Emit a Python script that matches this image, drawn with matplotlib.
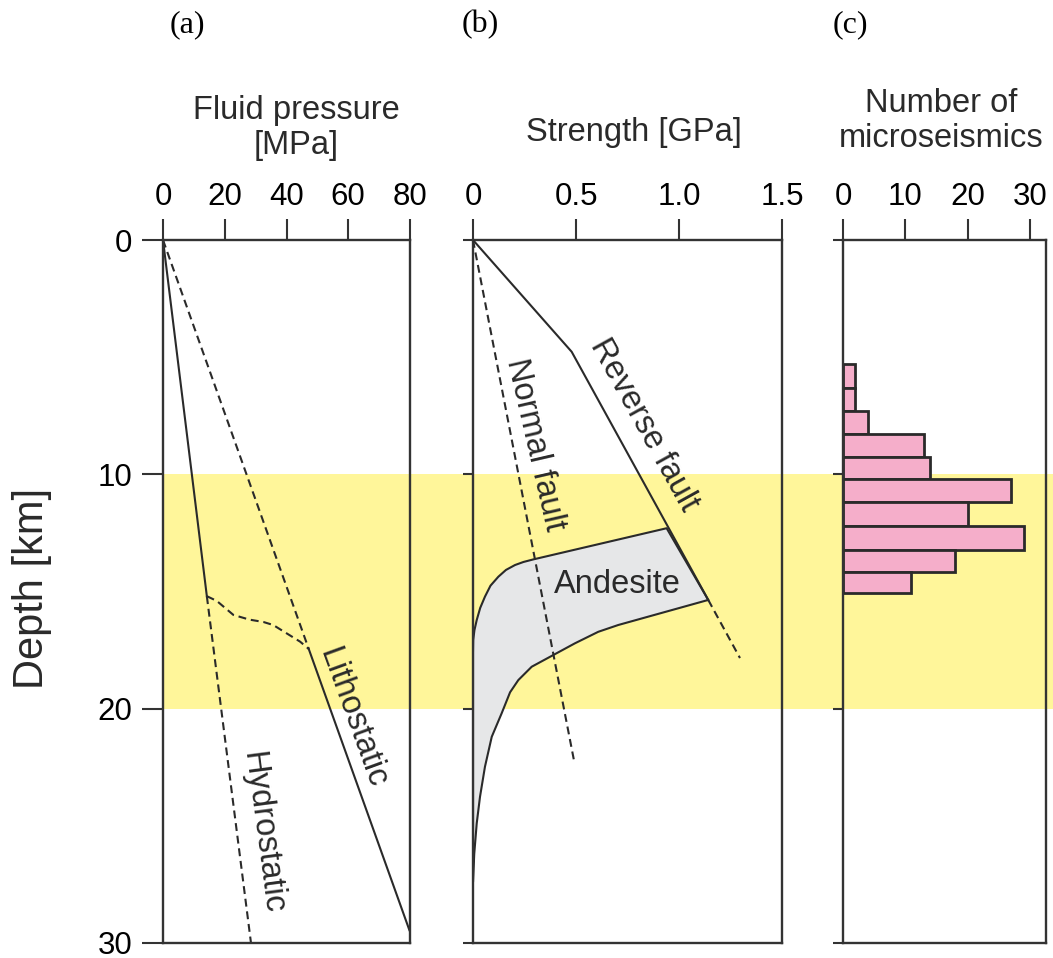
import numpy as np
import matplotlib
matplotlib.use('Agg')
import matplotlib.pyplot as plt
from matplotlib.patches import Rectangle, Polygon
from matplotlib.transforms import blended_transform_factory

plt.rcParams['font.family'] = ['Liberation Sans', 'DejaVu Sans']

# ---------------- data ----------------
# Panel (a): fluid pressure [MPa] vs depth [km]
hydro_upper_p = [0, 14.2]
hydro_upper_d = [0, 15.2]
hydro_lower_p = [14.2, 28.5]
hydro_lower_d = [15.2, 30.0]
litho_upper_p = [0, 47.2]
litho_upper_d = [0, 17.45]
litho_lower_p = [47.2, 79.8]
litho_lower_d = [17.45, 29.45]
trans_p = [14.2, 17.4, 22.8, 28.0, 32.5, 35.7, 40.1, 44.4, 47.2]
trans_d = [15.2, 15.4, 16.0, 16.2, 16.3, 16.43, 16.79, 17.14, 17.45]

# Panel (b): strength [GPa] vs depth [km]
reverse_s = [0, 0.479, 1.142]
reverse_d = [0, 4.77, 15.36]
reverse_ext_s = [1.142, 1.296]
reverse_ext_d = [15.36, 17.84]
normal_s = [0, 0.49]
normal_d = [0, 22.2]
andesite_top_s = [0.940, 0.293, 0.245, 0.204, 0.160, 0.123, 0.085, 0.058, 0.035, 0.018, 0.007, 0.001, 0.0]
andesite_top_d = [12.30, 13.63, 13.74, 13.87, 14.08, 14.37, 14.75, 15.22, 15.70, 16.22, 16.65, 17.07, 17.6]
andesite_bot_s = [0.0, 0.006, 0.018, 0.034, 0.058, 0.091, 0.139, 0.180, 0.220, 0.285,
                  0.390, 0.495, 0.608, 0.705, 1.142]
andesite_bot_d = [27.4, 26.2, 24.9, 23.76, 22.48, 21.2, 20.2, 19.3, 18.78, 18.21,
                  17.71, 17.21, 16.72, 16.43, 15.36]

# Panel (c): microseismic histogram
bin_edges = [5.3, 6.3, 7.3, 8.28, 9.26, 10.22, 11.2, 12.2, 13.22, 14.17, 15.08]
counts = [2, 2, 4, 13, 14, 27, 20, 29, 18, 11]

depth_ticks = [0, 10, 20, 30]
band = (10, 20)

# ---------------- style ----------------
W, H = 1053, 958
dark = '#2a2a2a'
spine_c = '#333333'
yellow = '#FFF69A'
pink = '#F5AECA'
gray = '#E6E7E8'
FS = 22.5
FT = 23.5
lw = 1.5
dash = (0, (3.8, 2.3))

fig = plt.figure(figsize=(W / 100, H / 100), dpi=100)

def ax_rect(x0, x1, y0=240, y1=943):
    return [x0 / W, 1 - y1 / H, (x1 - x0) / W, (y1 - y0) / H]

axA = fig.add_axes(ax_rect(163, 410))
axB = fig.add_axes(ax_rect(473, 782))
axC = fig.add_axes(ax_rect(843, 1046))

for ax, ylen in [(axA, 15), (axB, 7.5), (axC, 7.5)]:
    ax.set_facecolor('none')
    ax.set_ylim(30, 0)
    ax.set_yticks(depth_ticks)
    ax.xaxis.tick_top()
    ax.tick_params(axis='x', which='both', direction='out', length=15, width=1.5,
                   color=spine_c, labelsize=FS, pad=5, bottom=False, top=True)
    ax.tick_params(axis='y', direction='out', length=ylen, width=1.5, color=spine_c,
                   labelsize=FS, pad=7, right=False)
    for s in ax.spines.values():
        s.set_linewidth(1.7)
        s.set_color(spine_c)
    if ax is not axA:
        ax.set_yticklabels([])

# yellow band across panels
tr = blended_transform_factory(fig.transFigure, axA.transData)
fig.add_artist(Rectangle((163 / W, band[0]), 1 - 163 / W, band[1] - band[0],
                         transform=tr, facecolor=yellow, edgecolor='none', zorder=-1))

# ---- panel a ----
axA.set_xlim(0, 80)
axA.set_xticks([0, 20, 40, 60, 80])
axA.set_xticklabels(['0', '20', '40', '60', '80'])
axA.plot(hydro_upper_p, hydro_upper_d, color=dark, lw=lw)
axA.plot(hydro_lower_p, hydro_lower_d, color=dark, lw=lw, ls=dash)
axA.plot(litho_upper_p, litho_upper_d, color=dark, lw=lw, ls=dash)
axA.plot(litho_lower_p, litho_lower_d, color=dark, lw=lw, clip_on=False)
axA.plot(trans_p, trans_d, color=dark, lw=lw, ls=dash)
axA.text(61.5, 20.4, 'Lithostatic', fontsize=FT, rotation=-70, ha='center', va='center',
         rotation_mode='anchor', color=dark)
axA.text(32.3, 25.3, 'Hydrostatic', fontsize=FT, rotation=-82.5, ha='center', va='center',
         rotation_mode='anchor', color=dark)

# ---- panel b ----
axB.set_xlim(0, 1.5)
axB.set_xticks([0, 0.5, 1.0, 1.5])
axB.set_xticklabels(['0', '0.5', '1.0', '1.5'])
poly_s = andesite_top_s + andesite_bot_s
poly_d = andesite_top_d + andesite_bot_d
axB.add_patch(Polygon(np.column_stack([poly_s, poly_d]), closed=True, facecolor=gray,
                      edgecolor=dark, lw=lw, joinstyle='round', zorder=1.5))
axB.plot(reverse_s, reverse_d, color=dark, lw=lw, zorder=3)
axB.plot(reverse_ext_s, reverse_ext_d, color=dark, lw=lw, ls=dash, zorder=3)
axB.plot(normal_s, normal_d, color=dark, lw=lw, ls=dash, zorder=3)
axB.text(0.301, 8.75, 'Normal fault', fontsize=FT, rotation=-77, ha='center', va='center',
         rotation_mode='anchor', color=dark)
axB.text(0.830, 7.9, 'Reverse fault', fontsize=FT, rotation=-61, ha='center', va='center',
         rotation_mode='anchor', color=dark)
axB.text(0.699, 14.72, 'Andesite', fontsize=FT, ha='center', va='center', color=dark, zorder=4)

# ---- panel c ----
axC.set_xlim(0, 32.6)
axC.set_xticks([0, 10, 20, 30])
axC.set_xticklabels(['0', '10', '20', '30'])
heights = np.diff(bin_edges)
axC.barh(bin_edges[:-1], counts, height=heights, align='edge', color=pink,
         edgecolor=dark, linewidth=2.0, zorder=2)

# ---- titles ----
def ftext(x, y, s, **kw):
    fig.text(x / W, 1 - y / H, s, **kw)

ftext(296, 128, 'Fluid pressure\n[MPa]', fontsize=FT, ha='center', va='center',
      linespacing=1.15, color=dark)
ftext(634, 132, 'Strength [GPa]', fontsize=FT, ha='center', va='center', color=dark)
ftext(941, 121, 'Number of\nmicroseismics', fontsize=FT, ha='center', va='center',
      linespacing=1.15, color=dark)
ftext(32, 588, 'Depth [km]', fontsize=30, rotation=90, ha='center', va='center', color=dark)

for x, s in [(187, '(a)'), (480, '(b)'), (850, '(c)')]:
    ftext(x, 25, s, fontsize=23, ha='center', va='center', family='Liberation Serif',
          color='black')

fig.savefig('out.png', dpi=100)
